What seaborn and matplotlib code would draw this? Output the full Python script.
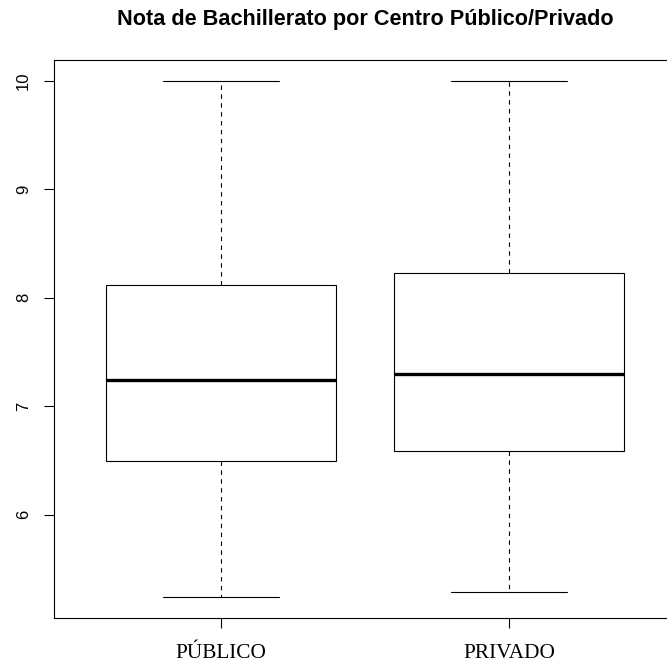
import numpy as np
import pandas as pd
import matplotlib
matplotlib.use("Agg")
import matplotlib.pyplot as plt
import seaborn as sns

categories = ["PÚBLICO", "PRIVADO"]
minimum = [5.24, 5.29]
q1 = [6.50, 6.59]
median = [7.24, 7.30]
q3 = [8.12, 8.23]
maximum = [10.0, 10.0]
yticks = [6, 7, 8, 9, 10]
title = "Nota de Bachillerato por Centro Público/Privado"

rows = []
for i, c in enumerate(categories):
    for v in (minimum[i], q1[i], median[i], q3[i], maximum[i]):
        rows.append({"centro": c, "nota": v})
df = pd.DataFrame(rows)

sns.set_theme(style="white")
plt.rcParams["font.family"] = ["Liberation Sans", "DejaVu Sans"]

fig = plt.figure(figsize=(6.67, 6.65), dpi=100)
ax = fig.add_axes([54 / 667, 47 / 665, 622 / 667, 558 / 665])

sns.boxplot(
    data=df, x="centro", y="nota", order=categories, width=0.8, whis=np.inf,
    color="white", linecolor="black", linewidth=0.8, ax=ax,
    boxprops=dict(facecolor="white", edgecolor="black"),
    whiskerprops=dict(linestyle=(0, (4, 4)), color="black"),
    capprops=dict(color="black"),
    medianprops=dict(linewidth=2.4, color="black"),
)

ax.set_xlim(-0.58, 1.58)
ax.set_ylim(5.05, 10.19)
ax.set_yticks(yticks)
ax.set_yticklabels([str(t) for t in yticks])
ax.set_xlabel("")
ax.set_ylabel("")
for s in ax.spines.values():
    s.set_color("black")
    s.set_linewidth(0.8)
ax.tick_params(axis="both", direction="out", length=7.5, width=0.8, color="black",
               left=True, bottom=True, labelcolor="black")
ax.tick_params(axis="y", labelrotation=90, labelsize=12, pad=9)
ax.tick_params(axis="x", labelsize=15.3, pad=11)
for lab in ax.get_xticklabels():
    lab.set_fontfamily(["Liberation Serif", "DejaVu Serif"])
for lab in ax.get_yticklabels():
    lab.set_va("center")

ax.set_title(title, fontsize=15.6, fontweight="bold", pad=25, color="black")

fig.savefig("out.png", dpi=100)
